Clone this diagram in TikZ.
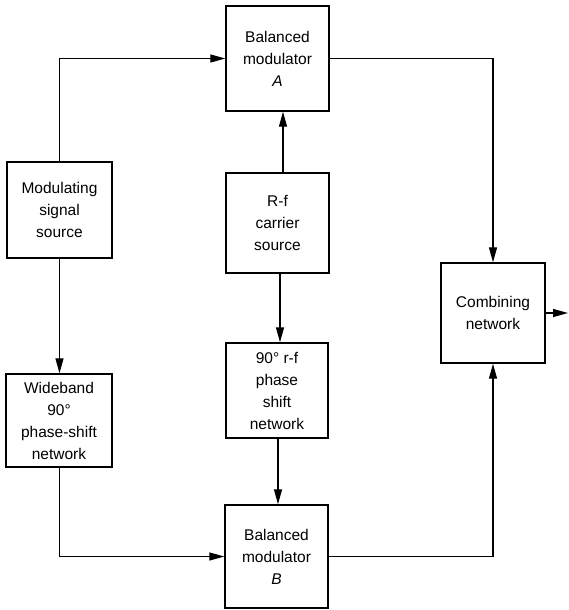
\documentclass[tikz,border=0pt]{standalone}
\usepackage{fontspec}
\setmainfont{Liberation Sans}
\usetikzlibrary{arrows.meta}
\begin{document}
\begin{tikzpicture}[x=1pt,y=-1pt,
  blk/.style={draw,line width=1.4pt,minimum width=103pt,minimum height=100pt,inner sep=0pt,
    align=center,font=\fontsize{15.5}{22}\selectfont},
  con/.style={line width=1.3pt},
  arr/.style={con,-{Triangle[length=15pt,width=8pt]}}]
\useasboundingbox (0,0) rectangle (568,610);
\node[blk,minimum width=103pt,minimum height=105pt] (A) at (277.5,58.5) {Balanced\\modulator\\\textit{A}};
\node[blk,minimum width=105pt,minimum height=96pt] (mod) at (59.5,210) {Modulating\\signal\\source};
\node[blk,minimum width=103pt,minimum height=100pt] (rf) at (277.5,223) {R-f\\carrier\\source};
\node[blk,minimum width=104pt,minimum height=100pt] (comb) at (493,313) {Combining\\network};
\node[blk,minimum width=106pt,minimum height=93pt] (wide) at (59,420.5) {Wideband\\90°\\phase-shift\\network};
\node[blk,minimum width=102pt,minimum height=95pt] (ps) at (277,390.5) {90° r-f\\phase\\shift\\network};
\node[blk,minimum width=103pt,minimum height=103pt] (B) at (276.5,556.5) {Balanced\\modulator\\\textit{B}};
\coordinate (out) at (568,313);
% connectors
\draw[arr] (mod.north) |- (A.west);
\draw[arr] (rf.north -| 283,0) -- (A.south -| 283,0);
\draw[arr] (rf.south -| 280,0) -- (ps.north -| 280,0);
\draw[arr] (ps.south -| 278,0) -- (B.north -| 278,0);
\draw[arr] (mod.south) -- (wide.north -| mod.south);
\draw[arr] (wide.south -| mod.south) |- (B.west);
\draw[arr] (A.east) -| (comb.north);
\draw[arr] (B.east) -| (comb.south);
\draw[arr] (comb.east) -- (out);
\end{tikzpicture}
\end{document}
